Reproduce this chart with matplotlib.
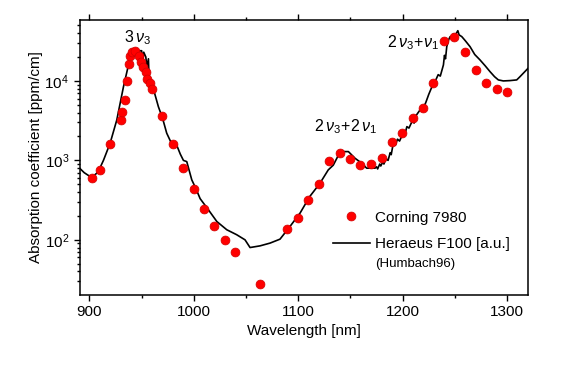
import matplotlib
matplotlib.use("Agg")
import matplotlib.pyplot as plt
from matplotlib.ticker import LogLocator, LogFormatterMathtext, MultipleLocator, NullFormatter

plt.rcParams['font.family'] = ['Liberation Sans', 'DejaVu Sans']
plt.rcParams['mathtext.fontset'] = 'custom'
plt.rcParams['mathtext.rm'] = 'Liberation Sans'
plt.rcParams['mathtext.it'] = 'Liberation Sans:italic'
plt.rcParams['mathtext.bf'] = 'Liberation Sans:bold'

# Corning 7980 (red dots)
corning_wl = [902.9, 910.2, 919.8, 930, 931.6, 933.9, 936, 938, 939, 941.2, 943.7,
              947.9, 949.5, 951.7, 954, 955.5, 958.1, 959.7, 969.9, 979.8, 989.7,
              999.9, 1009.5, 1019.7, 1029.6, 1039.5, 1063.4, 1089, 1099.4, 1109.6,
              1119.8, 1129.7, 1140, 1149.5, 1159.1, 1169.3, 1179.8, 1189.4, 1199.6,
              1209.5, 1219.1, 1229.3, 1239.5, 1249.1, 1259.6, 1269.8, 1279.7, 1290,
              1299.5]
corning_val = [608, 760, 1610, 3230, 4040, 5770, 10000, 16200, 20800, 23000, 24000,
               20800, 17500, 14900, 13100, 10500, 9520, 7940, 3630, 1610, 798,
               439, 245, 149, 100, 70.6, 27.7, 137, 186, 318,
               500, 995, 1254, 1045, 877, 895, 1065, 1694, 2200,
               3450, 4540, 9520, 31800, 36100, 23400, 13800, 9520, 7870,
               7350]

# Heraeus F100 (black line)
heraeus_wl = [890.5, 895, 900.7, 904, 907, 910, 913.4, 919.8, 926.2, 932.6, 937.4,
              939, 943.7, 946, 948.5, 950, 951, 952, 954, 955, 956.5, 957, 959.7,
              966, 970, 974, 978, 983.6, 987, 990, 993.2, 998, 1002, 1006, 1014,
              1022, 1031.5, 1041, 1049, 1053.8, 1063.4, 1073, 1082.5, 1092, 1101.7,
              1111, 1120.8, 1128.7, 1133.5, 1138.6, 1141.5, 1148, 1154.3, 1160.7,
              1165.5, 1173.5, 1175, 1176, 1178, 1179, 1181, 1182, 1184, 1186, 1188,
              1189, 1191, 1193, 1195, 1197, 1200, 1202, 1204, 1206, 1209, 1211,
              1213, 1216.6, 1219, 1222, 1225, 1229.4, 1232, 1234, 1236, 1239, 1240,
              1241, 1242.2, 1244, 1245.4, 1247, 1248.6, 1250, 1252.8, 1254, 1256.6,
              1260, 1264.5, 1269, 1274, 1279, 1283.6, 1288, 1291.6, 1296.4, 1302.8,
              1309.2, 1312, 1315.5, 1320]
heraeus_val = [800, 700, 625, 640, 690, 800, 1000, 1645, 3230, 8470, 15900,
               22300, 23000, 22000, 24000, 24000, 17000, 23000, 20000, 15000, 19000, 12000, 9370,
               4750, 3400, 2200, 1700, 1550, 1200, 1000, 965, 569, 440, 330, 238,
               170, 134, 116, 100, 80, 84, 91, 102, 147, 217,
               351, 516, 759, 870, 1172, 1290, 1290, 1065, 922,
               798, 798, 830, 780, 900, 850, 960, 900, 1050, 1000, 1250,
               1180, 1645, 1560, 1850, 1750, 2150, 2100, 2660, 2550, 3100, 2950,
               3700, 4310, 4400, 5300, 6800, 9340, 10500, 12000, 11500, 15900, 21000,
               19000, 27000, 33000, 36100, 34000, 38900, 37000, 42900, 38000, 36100,
               32000, 27000, 21500, 18400, 15500, 13100, 11300, 10300, 10000, 10100,
               10300, 11200, 12500, 14400]

fig = plt.figure(figsize=(5.62, 3.70), dpi=100)
ax = fig.add_axes([0.1415, 0.204, 0.798, 0.742])

ax.plot(heraeus_wl, heraeus_val, color='black', lw=1.2, label='Heraeus F100 [a.u.]', zorder=2)
ax.plot(corning_wl, corning_val, 'o', color='#ff0000', mec='#d00000', mew=0.5, ms=6.4,
        label='Corning 7980', zorder=3)

ax.set_yscale('log')
ax.set_xlim(890.5, 1320)
ax.set_ylim(20.5, 58500)

ax.xaxis.set_major_locator(MultipleLocator(100))
ax.xaxis.set_minor_locator(MultipleLocator(50))
ax.yaxis.set_major_locator(LogLocator(base=10))
ax.yaxis.set_minor_locator(LogLocator(base=10, subs=range(2, 10)))
ax.yaxis.set_major_formatter(LogFormatterMathtext())
ax.yaxis.set_minor_formatter(NullFormatter())

ax.tick_params(axis='x', which='both', direction='out', top=True, bottom=True, labelsize=11)
ax.tick_params(axis='y', which='both', direction='out', left=True, right=False, labelsize=11)
ax.tick_params(which='major', length=4, width=1)
ax.tick_params(which='minor', length=2.5, width=1)
for s in ax.spines.values():
    s.set_linewidth(1.1)

ax.set_xlabel('Wavelength [nm]', fontsize=11)
ax.set_ylabel('Absorption coefficient [ppm/cm]', fontsize=11, labelpad=1)

ax.text(945.5, 34700, r'$3\,\nu_3$', fontsize=11.5, ha='center', va='center')
ax.text(1145, 2630, r'$2\,\nu_3\!+\!2\,\nu_1$', fontsize=11.5, ha='center', va='center')
ax.text(1210, 30000, r'$2\,\nu_3\!+\!\nu_1$', fontsize=11.5, ha='center', va='center')

handles, labels = ax.get_legend_handles_labels()
leg = ax.legend(handles[::-1], labels[::-1], loc='upper left', bbox_to_anchor=(0.565, 0.305),
                frameon=False, fontsize=11, handlelength=2.4, handletextpad=0.35,
                labelspacing=0.8, borderpad=0, borderaxespad=0)
ax.text(0.659, 0.11, '(Humbach96)', transform=ax.transAxes, fontsize=9.5, ha='left', va='center')

fig.savefig('out.png', dpi=100)
